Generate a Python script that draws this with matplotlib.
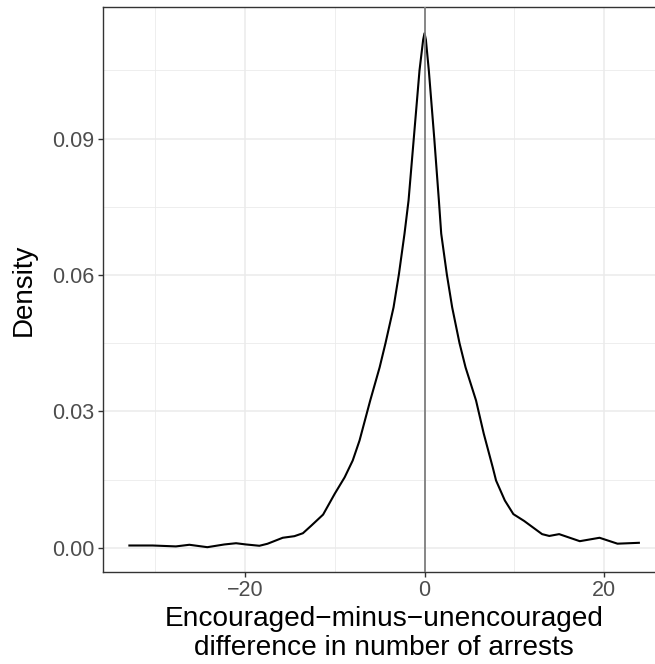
import matplotlib
matplotlib.use("Agg")
import matplotlib.pyplot as plt
from matplotlib.ticker import FixedLocator

plt.rcParams['font.family'] = ['Liberation Sans', 'DejaVu Sans']

# Density curve
diff_x = [-33.0, -30.3, -27.7, -26.2, -24.2, -22.3, -21.0, -19.9, -18.4, -17.5,
          -15.8, -14.5, -13.55, -12.6, -11.3, -10.0, -8.9, -8.0, -7.24, -6.05,
          -5.0, -4.35, -3.45, -2.86, -2.23, -1.78, -1.19, -0.56, -0.15, 0.0,
          0.15, 0.48, 1.08, 1.6, 1.86, 2.49, 3.08, 3.9, 4.57, 5.74,
          6.6, 7.6, 7.97, 8.95, 9.9, 11.1, 13.1, 13.9, 15.0, 17.3,
          19.5, 21.5, 24.0]
density = [0.0005, 0.0005, 0.0003, 0.00066, 0.00013, 0.00073, 0.0010, 0.00073, 0.00044, 0.00088,
           0.0022, 0.00255, 0.0032, 0.0049, 0.0073, 0.0119, 0.0155, 0.0192, 0.0236, 0.0324,
           0.0397, 0.0450, 0.0529, 0.0601, 0.0691, 0.0764, 0.0902, 0.1050, 0.1118, 0.1132,
           0.1118, 0.1050, 0.0902, 0.0764, 0.0691, 0.0601, 0.0529, 0.0450, 0.0397, 0.0324,
           0.0251, 0.0177, 0.0148, 0.0104, 0.0074, 0.0059, 0.0030, 0.0026, 0.0030, 0.00145,
           0.0022, 0.0009, 0.0011]

x_major = [-20, 0, 20]
x_minor = [-30, -10, 10]
y_major = [0.00, 0.03, 0.06, 0.09]
y_minor = [0.015, 0.045, 0.075, 0.105]
y_labels = ["0.00", "0.03", "0.06", "0.09"]
x_labels = ["\u221220", "0", "20"]
vline_at = 0

W, H = 655, 664
fig = plt.figure(figsize=(W / 100, H / 100), dpi=100)
left, right, top, bottom = 102.5, 665.5, 7.3, 571.5
ax = fig.add_axes([left / W, 1 - bottom / H, (right - left) / W, (bottom - top) / H])

ax.set_xlim(-35.88, 26.85)
ax.set_ylim(-0.00522, 0.1189)

ax.xaxis.set_major_locator(FixedLocator(x_major))
ax.xaxis.set_minor_locator(FixedLocator(x_minor))
ax.yaxis.set_major_locator(FixedLocator(y_major))
ax.yaxis.set_minor_locator(FixedLocator(y_minor))
ax.set_xticklabels(x_labels)
ax.set_yticklabels(y_labels)

ax.grid(which='major', color='#EBEBEB', linewidth=1.1, zorder=0)
ax.grid(which='minor', color='#EBEBEB', linewidth=0.6, zorder=0)
ax.set_axisbelow(True)

ax.plot(diff_x, density, color='black', linewidth=1.5, zorder=3,
        solid_joinstyle='round', solid_capstyle='butt')
ax.axvline(vline_at, color='#7F7F7F', linewidth=1.3, zorder=4)

for s in ax.spines.values():
    s.set_color('#333333')
    s.set_linewidth(1.0)

ax.tick_params(which='major', length=3.5, width=1.0, color='#333333',
               labelcolor='#4D4D4D', labelsize=15.5, pad=2.5)
ax.tick_params(which='minor', length=0)

ax.set_ylabel("Density", fontsize=20, color='black', labelpad=11)
ax.set_xlabel("Encouraged\u2212minus\u2212unencouraged\ndifference in number of arrests",
              fontsize=20.2, color='black', labelpad=4, linespacing=1.12)

fig.savefig("out.png", dpi=100)
